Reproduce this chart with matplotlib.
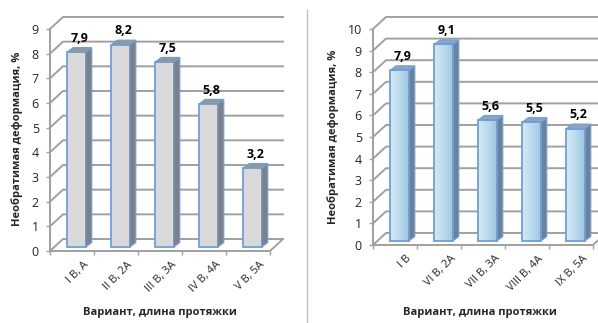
import matplotlib.pyplot as plt
import numpy as np
from matplotlib.patches import Polygon, Rectangle
from matplotlib.colors import LinearSegmentedColormap

plt.rcParams['font.family'] = ['Open Sans', 'DejaVu Sans']

# data
left_cats = ['I В, А', 'II В, 2А', 'III В, 3А', 'IV В, 4А', 'V В, 5А']
left_vals = [7.9, 8.2, 7.5, 5.8, 3.2]
left_labels = ['7,9', '8,2', '7,5', '5,8', '3,2']

right_cats = ['I В', 'VI В, 2А', 'VII В, 3А', 'VIII В, 4А', 'IX В, 5А']
right_vals = [7.9, 9.1, 5.6, 5.5, 5.2]
right_labels = ['7,9', '9,1', '5,6', '5,5', '5,2']

ylabel = 'Необратимая деформация, %'
xlabel = 'Вариант, длина протяжки'

W, H = 598, 323
fig = plt.figure(figsize=(W / 100, H / 100), dpi=100)

EDGE = '#6E9FDA'
GRID = '#A0A0A0'
TXT = '#262626'

grad = LinearSegmentedColormap.from_list('g', ['#D8E7F5', '#C3E1EE', '#B3D5EA', '#A3C2E4'])


def make_axes(x0, y0, x1, y1, sx, sy):
    # x0,y0 pixel origin (data 0,0), x1 right px, y1 top px
    ax = fig.add_axes([x0 / W, (H - y0) / H, (x1 - x0) / W, (y0 - y1) / H])
    ax.set_xlim(0, (x1 - x0) / sx)
    ax.set_ylim(0, (y0 - y1) / sy)
    for s in ax.spines.values():
        s.set_visible(False)
    ax.patch.set_alpha(0)
    return ax


def draw_chart(ax, sx, sy, cats, vals, labels, ymax, style):
    n = len(cats)
    wx, wy = 13 / sx, 12 / sy          # wall depth offset
    fx, fy = 4.5 / sx, 4 / sy          # bar front offset
    dx, dy = 6 / sx, 4.5 / sy          # bar depth
    bw = 18.5 / sx

    # walls / gridlines
    for v in range(ymax + 1):
        ax.plot([0, wx, n + wx], [v, v + wy, v + wy], color=GRID, lw=1.4,
                clip_on=False, zorder=1)
    ax.plot([0, n, n + wx], [0, 0, wy], color=GRID, lw=1.4, clip_on=False, zorder=1)
    ax.plot([0, 0], [0, ymax], color=GRID, lw=1.4, clip_on=False, zorder=1)

    ax.set_yticks(range(ymax + 1))
    ax.set_yticklabels([str(v) for v in range(ymax + 1)])
    ax.set_xticks(range(n + 1))
    ax.set_xticklabels([])
    ax.tick_params(axis='both', direction='out', length=3, width=1, color=GRID,
                   labelsize=9, labelcolor=TXT, pad=5)

    for i, v in enumerate(vals):
        x0 = i + 0.5 - bw / 2 + fx
        y0 = fy
        top = v + fy
        x1 = x0 + bw
        if style == 'gray':
            ax.add_patch(Rectangle((x0, y0), bw, top - y0, fc='#D9D9D9', ec=EDGE,
                                   lw=1.3, zorder=3))
            side_c, top_c = '#808080', '#969696'
        else:
            rect = Rectangle((x0, y0), bw, top - y0, fc='none', ec=EDGE, lw=1.3, zorder=4)
            ax.add_patch(rect)
            img = ax.imshow(np.linspace(0, 1, 64).reshape(1, -1), cmap=grad,
                            extent=[x0, x1, y0, top], aspect='auto', zorder=3)
            img.set_clip_path(rect)
            side_c, top_c = '#6D8297', '#8FA5BC'
        ax.add_patch(Polygon([(x1, y0), (x1 + dx, y0 + dy), (x1 + dx, top + dy), (x1, top)],
                             closed=True, fc=side_c, ec=EDGE, lw=0.9, zorder=3))
        ax.add_patch(Polygon([(x0, top), (x0 + dx, top + dy), (x1 + dx, top + dy), (x1, top)],
                             closed=True, fc=top_c, ec=EDGE, lw=0.9, zorder=3))
        ax.annotate(labels[i], (i + 0.5 + fx + dx / 2, top + dy), xytext=(0, 2),
                    textcoords='offset points', ha='center', va='bottom',
                    fontsize=9, fontweight='bold', color='black', zorder=5)

    for i, c in enumerate(cats):
        ax.annotate(c, (i + 0.5, 0), xytext=(8, -6), textcoords='offset points',
                    ha='right', va='top', rotation=45, rotation_mode='anchor',
                    fontsize=8, color=TXT)


# left chart
sxL, syL = 44.0, 24.67
axL = make_axes(50, 251, 300, 5, sxL, syL)
draw_chart(axL, sxL, syL, left_cats, left_vals, left_labels, 9, 'gray')
fig.text(17 / W, 1 - 139 / H, ylabel, rotation=90, ha='center', va='center',
         fontsize=8, fontweight='bold', color=TXT)
fig.text(160 / W, 1 - 313 / H, xlabel, ha='center', va='center',
         fontsize=8, fontweight='bold', color=TXT)

# right chart
sxR, syR = 44.0, 21.6
axR = make_axes(373, 245, 598, 5, sxR, syR)
draw_chart(axR, sxR, syR, right_cats, right_vals, right_labels, 10, 'blue')
fig.text(333 / W, 1 - 137 / H, ylabel, rotation=90, ha='center', va='center',
         fontsize=8, fontweight='bold', color=TXT)
fig.text(480 / W, 1 - 313 / H, xlabel, ha='center', va='center',
         fontsize=8, fontweight='bold', color=TXT)

# separator border of the right chart
fig.add_artist(plt.Line2D([307 / W, 307 / W], [0, 1 - 10 / H], color='#BFBFBF', lw=1))

fig.savefig('out.png', dpi=100)
